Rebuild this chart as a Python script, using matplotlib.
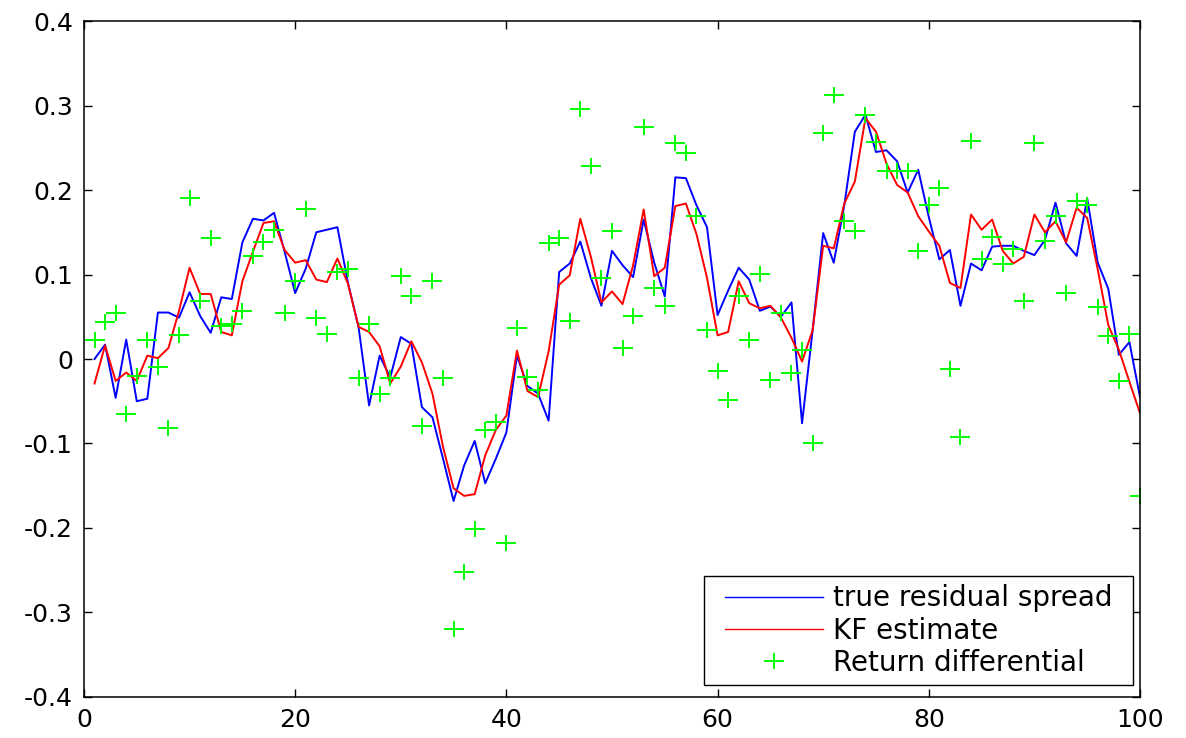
import matplotlib
matplotlib.use("Agg")
import matplotlib.pyplot as plt
import numpy as np
from matplotlib.path import Path
from matplotlib.ticker import FuncFormatter

plt.rcParams["font.family"] = ["DejaVu Sans"]
plt.rcParams["axes.unicode_minus"] = False

steps = np.arange(1, 101)

true_spread = [
    0.000, 0.017, -0.046, 0.023, -0.050, -0.047, 0.055, 0.055, 0.049, 0.079,
    0.051, 0.031, 0.073, 0.071, 0.138, 0.166, 0.164, 0.173, 0.127, 0.078,
    0.107, 0.150, 0.153, 0.156, 0.090, 0.038, -0.055, 0.004, -0.022, 0.026,
    0.018, -0.057, -0.069, -0.118, -0.168, -0.126, -0.097, -0.147, -0.118, -0.087,
    0.004, -0.032, -0.041, -0.073, 0.103, 0.113, 0.139, 0.096, 0.063, 0.128,
    0.111, 0.097, 0.165, 0.114, 0.074, 0.215, 0.214, 0.182, 0.156, 0.052,
    0.081, 0.108, 0.094, 0.057, 0.062, 0.050, 0.067, -0.076, 0.034, 0.149,
    0.114, 0.182, 0.269, 0.289, 0.245, 0.247, 0.234, 0.197, 0.224, 0.168,
    0.118, 0.129, 0.063, 0.113, 0.105, 0.133, 0.134, 0.134, 0.128, 0.123,
    0.141, 0.185, 0.137, 0.122, 0.190, 0.114, 0.083, 0.005, 0.020, -0.045,
]

kf_estimate = [
    -0.029, 0.016, -0.026, -0.016, -0.026, 0.004, 0.001, 0.013, 0.057, 0.108,
    0.077, 0.077, 0.032, 0.028, 0.092, 0.127, 0.161, 0.163, 0.129, 0.114,
    0.117, 0.094, 0.091, 0.119, 0.089, 0.038, 0.032, 0.015, -0.029, -0.009,
    0.021, -0.004, -0.041, -0.104, -0.153, -0.162, -0.160, -0.114, -0.084, -0.067,
    0.010, -0.038, -0.045, 0.009, 0.088, 0.099, 0.166, 0.121, 0.067, 0.080,
    0.065, 0.111, 0.177, 0.098, 0.108, 0.181, 0.184, 0.148, 0.096, 0.028,
    0.032, 0.092, 0.066, 0.060, 0.063, 0.049, 0.025, -0.003, 0.034, 0.134,
    0.131, 0.184, 0.210, 0.285, 0.269, 0.231, 0.206, 0.197, 0.169, 0.151,
    0.134, 0.090, 0.084, 0.171, 0.153, 0.165, 0.128, 0.113, 0.121, 0.171,
    0.150, 0.163, 0.138, 0.179, 0.167, 0.106, 0.040, 0.011, -0.027, -0.064,
]

return_diff = [
    0.022, 0.044, 0.055, -0.065, -0.020, 0.022, -0.010, -0.082, 0.028, 0.190,
    0.069, 0.143, 0.039, 0.042, 0.057, 0.122, 0.139, 0.153, 0.055, 0.092,
    0.178, 0.049, 0.030, 0.103, 0.107, -0.023, 0.042, -0.041, -0.022, 0.098,
    0.074, -0.079, 0.092, -0.022, -0.320, -0.252, -0.201, -0.084, -0.075, -0.218,
    0.037, -0.021, -0.037, 0.137, 0.143, 0.045, 0.296, 0.229, 0.096, 0.151,
    0.013, 0.051, 0.275, 0.084, 0.063, 0.256, 0.244, 0.169, 0.034, -0.014,
    -0.048, 0.074, 0.022, 0.101, -0.025, 0.055, -0.016, 0.011, -0.100, 0.267,
    0.312, 0.163, 0.151, 0.289, 0.257, 0.222, 0.223, 0.223, 0.128, 0.182,
    0.202, -0.012, -0.092, 0.258, 0.118, 0.144, 0.113, 0.130, 0.069, 0.256,
    0.140, 0.169, 0.078, 0.187, 0.182, 0.062, 0.027, -0.026, 0.029, -0.162,
]

# the source image is a bit stretched sideways, so the plus is wider than tall
wide_plus = Path([(-1, 0), (1, 0), (0, -0.84), (0, 0.84)],
                 [Path.MOVETO, Path.LINETO, Path.MOVETO, Path.LINETO])


def tick_fmt(v, pos):
    v = round(v, 1)
    return "0" if v == 0 else f"{v:g}"


fig = plt.figure(figsize=(11.86, 7.38), dpi=100)
ax = fig.add_axes([0.0708, 0.0556, 0.8904, 0.9159])

ax.plot(steps, true_spread, color="#0000ff", lw=1.4, label="true residual spread")
ax.plot(steps, kf_estimate, color="#ff0000", lw=1.4, label="KF estimate")
ax.plot(steps, return_diff, ls="none", marker=wide_plus, ms=13.7, mew=1.4,
        color="#00ff00", label="Return differential")

ax.set_xlim(0, 100)
ax.set_ylim(-0.4, 0.4)
ax.set_xticks(np.arange(0, 101, 20))
ax.set_yticks(np.arange(-0.4, 0.41, 0.1))
ax.yaxis.set_major_formatter(FuncFormatter(tick_fmt))
ax.tick_params(direction="in", length=6, width=1, top=True, right=True,
               labelsize=18, pad=8)
for s in ax.spines.values():
    s.set_linewidth(1.1)

leg = ax.legend(loc="lower right", bbox_to_anchor=(0.981, 0.0178),
                borderaxespad=0, fontsize=20, handlelength=3.53,
                handletextpad=0.36, labelspacing=0.16, borderpad=0.28,
                fancybox=False, framealpha=1, edgecolor="black")
frame = leg.get_frame()
frame.set_linewidth(1.0)
# widen the frame sideways only (MATLAB legend has more side padding)
frame.set_boxstyle("square", pad=0.47)
frame.set_mutation_aspect(1e-6)
for h in leg.get_lines()[:2]:
    h.set_linewidth(1.0)

fig.savefig("out.png", dpi=100)
